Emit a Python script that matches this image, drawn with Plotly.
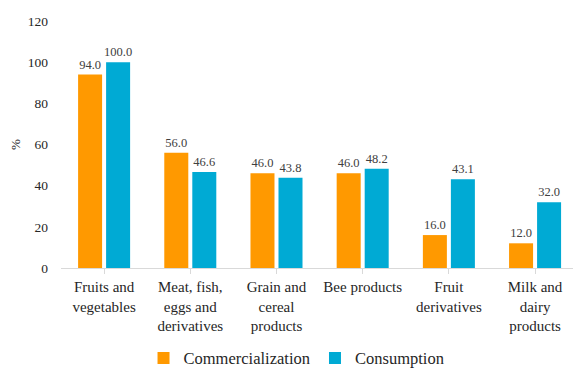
import plotly.graph_objects as go

categories = ["Fruits and<br>vegetables", "Meat, fish,<br>eggs and<br>derivatives",
              "Grain and<br>cereal<br>products", "Bee products",
              "Fruit<br>derivatives", "Milk and<br>dairy<br>products"]
commercialization = [94.0, 56.0, 46.0, 46.0, 16.0, 12.0]
consumption = [100.0, 46.6, 43.8, 48.2, 43.1, 32.0]
y_ticks = [0, 20, 40, 60, 80, 100, 120]

FONT = "Times New Roman, Liberation Serif, Tinos, serif"
ORANGE = "#FF9900"
BLUE = "#00AAD4"

x_idx = list(range(len(categories)))

fig = go.Figure()
fig.add_trace(go.Bar(
    x=x_idx, y=commercialization, name="Commercialization",
    marker=dict(color=ORANGE, line=dict(width=0)),
    text=[f"{v:.1f}" for v in commercialization], textposition="outside",
    constraintext="none",
    textfont=dict(family=FONT, size=12.5, color="#404040"), cliponaxis=False,
))
fig.add_trace(go.Bar(
    x=x_idx, y=consumption, name="Consumption",
    marker=dict(color=BLUE, line=dict(width=0)),
    text=[f"{v:.1f}" for v in consumption], textposition="outside",
    constraintext="none",
    textfont=dict(family=FONT, size=12.5, color="#404040"), cliponaxis=False,
))

fig.update_layout(
    width=573, height=369,
    margin=dict(l=61, r=0, t=21, b=101, autoexpand=False),
    paper_bgcolor="white", plot_bgcolor="white",
    barmode="group", bargap=0.35, bargroupgap=0.143,
    font=dict(family=FONT, color="#262626"),
    showlegend=True,
    legend=dict(orientation="h", x=0.46, xanchor="center", y=-0.365, yanchor="middle",
                font=dict(family=FONT, size=16.5, color="#262626"),
                itemwidth=30, traceorder="normal"),
    xaxis=dict(
        tickmode="array", tickvals=x_idx, ticktext=categories,
        range=[-0.5, 5.44], showline=True, linecolor="#d9d9d9", linewidth=1,
        ticks="outside", tickson="boundaries", ticklen=5, tickcolor="#d9d9d9",
        tickfont=dict(family=FONT, size=15, color="#262626"), showgrid=False,
        zeroline=False, automargin=False,
    ),
    yaxis=dict(
        range=[0, 120], tickvals=y_ticks, showgrid=False, zeroline=False,
        showline=False, ticks="", ticklabelstandoff=12, automargin=False,
        tickfont=dict(family=FONT, size=13.5, color="#262626"),
        title=dict(text="%", font=dict(family=FONT, size=13, color="#262626"), standoff=4),
    ),
)

fig.write_html("out.html")
